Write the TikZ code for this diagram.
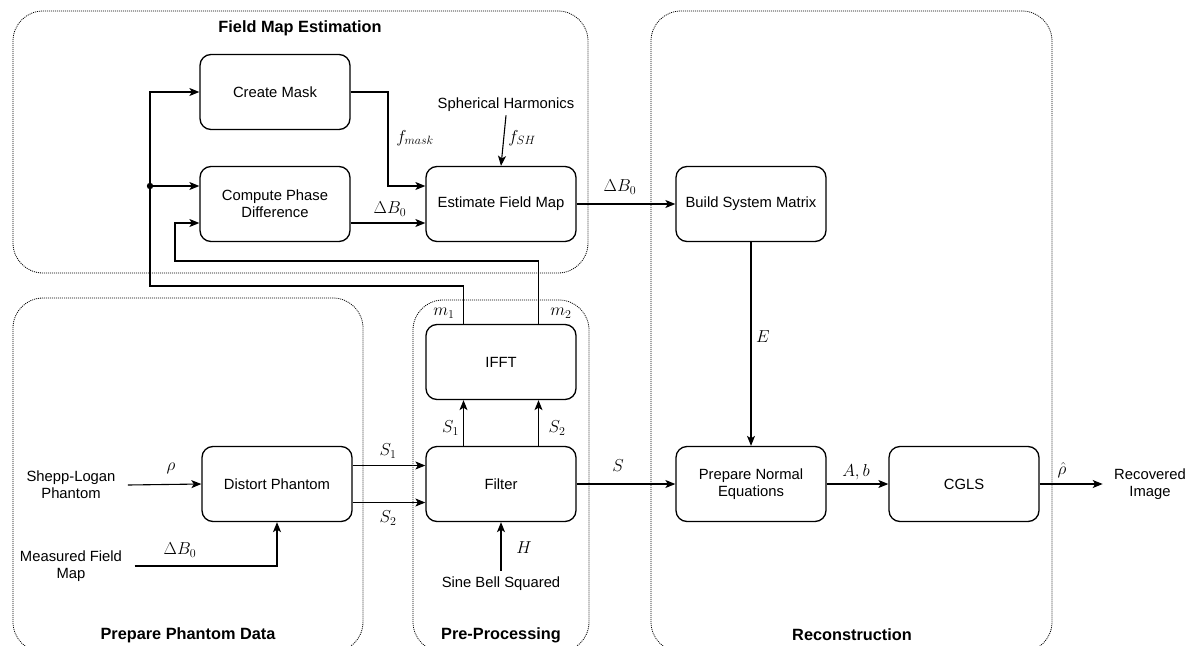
\documentclass[tikz,border=0pt]{standalone}
\usepackage[no-math]{fontspec}
\setmainfont{Liberation Sans}
\usetikzlibrary{arrows.meta}

\newcommand{\boxfont}{\fontsize{14.8}{17}\selectfont}
\newcommand{\grpfont}{\fontsize{16.3}{19}\selectfont\bfseries}
\newcommand{\lblfont}{\fontsize{18}{21}\selectfont}

\begin{document}
\begin{tikzpicture}[x=1pt, y=-1pt,
    block/.style={draw, line width=1.3pt, rounded corners=11pt,
        minimum width=150pt, minimum height=75pt, align=center, font=\boxfont},
    group/.style={draw, line width=0.8pt, dash pattern=on 1pt off 1pt,
        rounded corners=30pt},
    title/.style={font=\grpfont},
    txt/.style={align=center, font=\boxfont},
    lbl/.style={font=\lblfont, inner sep=0pt},
    arr/.style={-{Stealth[length=10pt, width=8pt, inset=2.5pt]}, line width=1.1pt}]

    \useasboundingbox (0,0) rectangle (1199,645);

    % группы
    \node[group, minimum width=575pt, minimum height=262pt] (fmeGrp) at (300.5,142) {};
    \node[group, minimum width=350pt, minimum height=354pt] (ppdGrp) at (188,475) {};
    \node[group, minimum width=176pt, minimum height=352pt] (preGrp) at (501,476) {};
    \node[group, minimum width=401pt, minimum height=641pt] (recGrp) at (851.5,331.5) {};

    \node[title] (fmeTitle) at (300,28) {Field Map Estimation};
    \node[title] (ppdTitle) at (188,635) {Prepare Phantom Data};
    \node[title] (preTitle) at (501,635) {Pre-Processing};
    \node[title] (recTitle) at (852,635) {Reconstruction};

    % блоки
    \node[block] (mask)  at (275,92)  {Create Mask};
    \node[block] (phase) at (275,204) {Compute Phase\\Difference};
    \node[block] (est)   at (501,204) {Estimate Field Map};
    \node[block] (bsm)   at (751,204) {Build System Matrix};
    \node[block] (ifft)  at (501,362) {IFFT};
    \node[block] (dist)  at (277,484) {Distort Phantom};
    \node[block] (filt)  at (501,484) {Filter};
    \node[block] (pne)   at (751,484) {Prepare Normal\\Equations};
    \node[block] (cgls)  at (964,484) {CGLS};

    % входы и выход
    \node[txt] (sh)  at (506,105) {Spherical Harmonics};
    \node[txt] (slp) at (71,485)  {Shepp-Logan\\Phantom};
    \node[txt] (mfm) at (71,566)  {Measured Field\\Map};
    \node[txt] (sbs) at (501,584) {Sine Bell Squared};
    \node[txt] (rec) at (1150,484) {Recovered\\Image};

    % обратная связь m1, m2
    \coordinate (j) at (150,186);
    \draw[arr] ([xshift=-37.5pt]ifft.north) |- (150,286) -- (j) |- (mask.west);
    \draw[arr] (j) -- (j -| phase.west);
    \fill (j) circle (3.2pt);
    \draw[arr] ([xshift=37.5pt]ifft.north) |- (175,261) |- ([yshift=-19pt]phase.west);
    \node[lbl] (m1) at (444,313) {$m_1$};
    \node[lbl] (m2) at (561,313) {$m_2$};

    % оценка поля
    \draw[arr] (mask.east) -| (388,186) -- (388,186 -| est.west);
    \node[lbl] (fmask) at (415,138) {$f_{mask}$};
    \draw[arr] ([yshift=-19pt]phase.east) -- ([yshift=-19pt]est.west);
    \node[lbl] (db1) at (390,209) {$\Delta B_0$};
    \draw[arr] (sh.south) -- (est.north);
    \node[lbl] (fsh) at (522,138) {$f_{SH}$};
    \draw[arr] (est) -- (bsm);
    \node[lbl] (db2) at (620,187) {$\Delta B_0$};

    % фантом
    \draw[arr] ([xshift=9pt]slp.east) -- (dist.west);
    \node[lbl] (rho) at (171,468) {$\rho$};
    \draw[arr] ([xshift=9pt]mfm.east) -| (dist.south);
    \node[lbl] (db3) at (180,550) {$\Delta B_0$};
    \draw[arr] ([yshift=18.5pt]dist.east) -- ([yshift=18.5pt]filt.west);
    \draw[arr] ([yshift=-18.5pt]dist.east) -- ([yshift=-18.5pt]filt.west);
    \node[lbl] (s1a) at (388,451) {$S_1$};
    \node[lbl] (s2a) at (388,518) {$S_2$};

    % предобработка
    \draw[arr] ([xshift=-37.5pt]filt.north) -- ([xshift=-37.5pt]ifft.south);
    \draw[arr] ([xshift=37.5pt]filt.north) -- ([xshift=37.5pt]ifft.south);
    \node[lbl] (s1b) at (450.5,428) {$S_1$};
    \node[lbl] (s2b) at (557,428) {$S_2$};
    \draw[arr] ([yshift=3pt]sbs.north) -- (filt.south);
    \node[lbl] (h) at (524,548) {$H$};

    % реконструкция
    \draw[arr] (bsm) -- (pne);
    \node[lbl] (e) at (763,337) {$E$};
    \draw[arr] (filt) -- (pne);
    \node[lbl] (s) at (618,466) {$S$};
    \draw[arr] (pne) -- (cgls);
    \node[lbl] (ab) at (856,472) {$A, b$};
    \draw[arr, shorten >=8pt] (cgls) -- (rec);
    \node[lbl] (rhohat) at (1062,470) {$\hat{\rho}$};

\end{tikzpicture}
\end{document}
